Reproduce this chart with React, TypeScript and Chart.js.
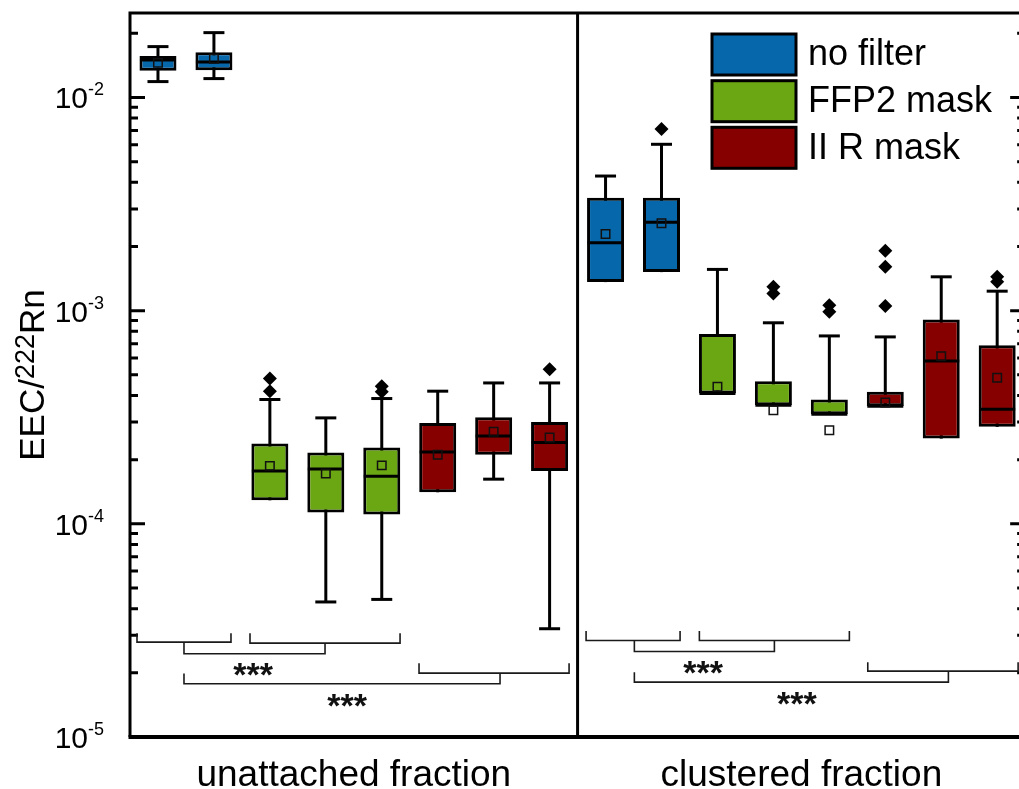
import React, { useEffect, useRef } from "react";
import { Chart, registerables } from "chart.js";

Chart.register(...registerables);

// ---------------- data ----------------
const groupLabels = ["unattached fraction", "clustered fraction"];
const groupCenters = [4.5, 12.5];
const dividerPosition = 8.5;

const seriesLabels = ["no filter", "FFP2 mask", "II R mask"];
const seriesColors = ["#0767AB", "#6BA713", "#870000"];

const boxPositions = [1, 2, 3, 4, 5, 6, 7, 8, 9, 10, 11, 12, 13, 14, 15, 16];
const boxSeries = [0, 0, 1, 1, 1, 2, 2, 2, 0, 0, 1, 1, 1, 2, 2, 2];
const whiskerLow = [0.01187, 0.01226, 1.289e-4, 4.3e-5, 4.42e-5, 1.406e-4, 1.62e-4, 3.22e-5, 1.361e-3, 1.516e-3, 4.09e-4, 3.6e-4, 3.27e-4, 3.56e-4, 2.51e-4, 2.85e-4];
const q1 = [0.01336, 0.01342, 1.289e-4, 1.129e-4, 1.105e-4, 1.406e-4, 2.11e-4, 1.77e-4, 1.361e-3, 1.516e-3, 4.09e-4, 3.6e-4, 3.27e-4, 3.56e-4, 2.51e-4, 2.85e-4];
const median = [0.015, 0.01468, 1.77e-4, 1.81e-4, 1.67e-4, 2.17e-4, 2.58e-4, 2.41e-4, 2.08e-3, 2.595e-3, 4.09e-4, 3.6e-4, 3.27e-4, 3.56e-4, 5.81e-4, 3.45e-4];
const q3 = [0.01566, 0.0163, 2.38e-4, 2.16e-4, 2.28e-4, 2.97e-4, 3.16e-4, 3.0e-4, 3.385e-3, 3.385e-3, 7.76e-4, 4.67e-4, 3.83e-4, 4.16e-4, 9.09e-4, 6.89e-4];
const whiskerHigh = [0.01732, 0.02014, 3.83e-4, 3.14e-4, 3.87e-4, 4.19e-4, 4.58e-4, 4.58e-4, 4.28e-3, 6.03e-3, 1.561e-3, 8.77e-4, 7.61e-4, 7.53e-4, 1.441e-3, 1.234e-3];
const mean = [0.01453, 0.01521, 1.87e-4, 1.72e-4, 1.88e-4, 2.11e-4, 2.7e-4, 2.54e-4, 2.29e-3, 2.567e-3, 4.39e-4, 3.41e-4, 2.75e-4, 3.71e-4, 6.11e-4, 4.84e-4];

const outlierPositions = [3, 3, 5, 5, 8, 10, 12, 12, 13, 13, 14, 14, 14, 16, 16];
const outlierValues = [4.81e-4, 4.19e-4, 4.42e-4, 4.16e-4, 5.31e-4, 7.11e-3, 1.293e-3, 1.204e-3, 1.061e-3, 9.87e-4, 1.909e-3, 1.606e-3, 1.05e-3, 1.441e-3, 1.365e-3];

const xMin = 0.5;
const xMax = 16.39; // the picture is cut just before the right frame
const xFrameRight = 16.5;
const yMin = 1e-5;
const yMax = 0.0249;
const yMajorTicks = [1e-5, 1e-4, 1e-3, 1e-2];
const yTickBase = "10";
const yTickExponents = ["-5", "-4", "-3", "-2"];
const yMinorMultipliers = [2, 3, 4, 5, 6, 7, 8, 9];

// significance brackets
const bracketLeft = [0.625, 2.645, 1.465, 5.666, 1.465, 8.652, 10.677, 9.515, 13.687, 9.515];
const bracketRight = [2.305, 5.327, 3.986, 8.348, 7.114, 10.332, 13.358, 12.018, 16.374, 15.128];
const bracketLevel = [2.786e-5, 2.757e-5, 2.459e-5, 1.993e-5, 1.778e-5, 2.838e-5, 2.838e-5, 2.52e-5, 2.037e-5, 1.808e-5];
const bracketLeftTop = [3.07e-5, 3.07e-5, 2.786e-5, 2.22e-5, 1.987e-5, 3.14e-5, 3.14e-5, 2.838e-5, 2.245e-5, 2.015e-5];
const bracketRightTop = [3.07e-5, 3.07e-5, 2.757e-5, 2.22e-5, 1.993e-5, 3.14e-5, 3.14e-5, 2.838e-5, 2.245e-5, 2.037e-5];
const starPositions = [2.699, 4.379, 10.743, 12.418];
const starValues = [2.12e-5, 1.528e-5, 2.167e-5, 1.549e-5];
const starText = "***";

const yTitleMain = "EEC/";
const yTitleSup = "222";
const yTitleEnd = "Rn";

// ---------------- chart ----------------
const FONT = '"Liberation Sans", Arial, Helvetica, sans-serif';

const decorPlugin = {
  id: "decor",
  afterDraw(chart: any) {
    const { ctx, chartArea: a } = chart;
    const x = chart.scales.x;
    const y = chart.scales.y;
    const frameRight = x.getPixelForValue(xFrameRight);
    ctx.save();
    ctx.strokeStyle = "#000";
    ctx.fillStyle = "#000";
    ctx.lineCap = "butt";

    // ticks (inward) on left and right frame
    const drawTick = (v: number, len: number) => {
      const py = y.getPixelForValue(v);
      ctx.lineWidth = 3;
      ctx.beginPath();
      ctx.moveTo(a.left, py);
      ctx.lineTo(a.left + len, py);
      ctx.moveTo(frameRight, py);
      ctx.lineTo(frameRight - len, py);
      ctx.stroke();
    };
    yMajorTicks.forEach((t) => {
      drawTick(t, 15);
      yMinorMultipliers.forEach((m) => {
        const v = t * m;
        if (v < yMax) drawTick(v, 8);
      });
    });

    // spines
    ctx.lineWidth = 3;
    ctx.beginPath();
    ctx.moveTo(a.left, a.bottom);
    ctx.lineTo(a.left, a.top);
    ctx.lineTo(frameRight, a.top);
    ctx.lineTo(frameRight, a.bottom);
    ctx.stroke();
    ctx.lineWidth = 4;
    ctx.beginPath();
    ctx.moveTo(a.left - 1.5, a.bottom);
    ctx.lineTo(frameRight + 2, a.bottom);
    ctx.stroke();
    // divider
    const dx = x.getPixelForValue(dividerPosition);
    ctx.lineWidth = 3;
    ctx.beginPath();
    ctx.moveTo(dx, a.top);
    ctx.lineTo(dx, a.bottom);
    ctx.stroke();

    // y tick labels
    ctx.textBaseline = "alphabetic";
    ctx.textAlign = "right";
    yMajorTicks.forEach((t, i) => {
      const py = y.getPixelForValue(t);
      ctx.font = `18px ${FONT}`;
      const sw = ctx.measureText(yTickExponents[i]).width;
      ctx.fillText(yTickExponents[i], a.left - 26, py - 2);
      ctx.font = `30px ${FONT}`;
      ctx.fillText(yTickBase, a.left - 26 - sw, py + 11);
    });

    // y title
    ctx.save();
    ctx.translate(44, 375);
    ctx.rotate(-Math.PI / 2);
    ctx.textAlign = "left";
    ctx.font = `35px ${FONT}`;
    const w1 = ctx.measureText(yTitleMain).width;
    const w3 = ctx.measureText(yTitleEnd).width;
    ctx.font = `27px ${FONT}`;
    const w2 = ctx.measureText(yTitleSup).width;
    const total = w1 + w2 + w3;
    let sx = -total / 2;
    ctx.font = `35px ${FONT}`;
    ctx.fillText(yTitleMain, sx, 0);
    sx += w1;
    ctx.font = `27px ${FONT}`;
    ctx.fillText(yTitleSup, sx, -10);
    sx += w2;
    ctx.font = `35px ${FONT}`;
    ctx.fillText(yTitleEnd, sx, 0);
    ctx.restore();

    // x group labels
    ctx.textAlign = "center";
    ctx.font = `37px ${FONT}`;
    groupLabels.forEach((l, i) => {
      ctx.fillText(l, x.getPixelForValue(groupCenters[i]), 786);
    });

    // brackets
    ctx.strokeStyle = "#1a1a1a";
    ctx.lineWidth = 1.6;
    bracketLeft.forEach((bl, i) => {
      const x1 = x.getPixelForValue(bl);
      const x2 = x.getPixelForValue(bracketRight[i]);
      const yl = y.getPixelForValue(bracketLevel[i]);
      const y1 = y.getPixelForValue(bracketLeftTop[i]);
      const y2 = y.getPixelForValue(bracketRightTop[i]);
      ctx.beginPath();
      ctx.moveTo(x1, y1);
      ctx.lineTo(x1, yl);
      ctx.lineTo(x2, yl);
      ctx.lineTo(x2, y2);
      ctx.stroke();
    });
    ctx.font = `bold 34px ${FONT}`;
    ctx.fillStyle = "#111";
    starPositions.forEach((p, i) => {
      ctx.fillText(starText, x.getPixelForValue(p), y.getPixelForValue(starValues[i]) + 19);
    });

    // legend
    const lx = 712;
    const lw = 84;
    const lh = 41;
    const tops = [34, 80.7, 127.3];
    ctx.textAlign = "left";
    ctx.textBaseline = "middle";
    ctx.font = `36px ${FONT}`;
    seriesLabels.forEach((lab, i) => {
      ctx.fillStyle = seriesColors[i];
      ctx.fillRect(lx, tops[i], lw, lh);
      ctx.strokeStyle = "#000";
      ctx.lineWidth = 3;
      ctx.strokeRect(lx, tops[i], lw, lh);
      ctx.fillStyle = "#000";
      ctx.fillText(lab, lx + lw + 12, tops[i] + lh / 2 + 1);
    });
    ctx.restore();
  },
};

export default function App() {
  const ref = useRef<HTMLCanvasElement | null>(null);

  useEffect(() => {
    if (!ref.current) return;

    const whiskerData = boxPositions.map((p, i) => ({ x: p, y: [whiskerLow[i], whiskerHigh[i]] }));
    const boxSets = seriesLabels.map((lab, s) => ({
      type: "bar" as const,
      label: lab,
      data: boxPositions
        .map((p, i) => ({ x: p, y: [q1[i], q3[i]], s: boxSeries[i] }))
        .filter((d) => d.s === s)
        .map((d) => ({ x: d.x, y: d.y })),
      backgroundColor: seriesColors[s],
      borderColor: "#000",
      borderWidth: 3,
      borderSkipped: false,
      grouped: false,
      maxBarThickness: 37,
      order: 4,
    }));
    const capData: { x: number; y: number }[] = [];
    boxPositions.forEach((p, i) => {
      if (whiskerHigh[i] > q3[i]) capData.push({ x: p, y: whiskerHigh[i] });
      if (whiskerLow[i] < q1[i]) capData.push({ x: p, y: whiskerLow[i] });
    });

    const chart = new Chart(ref.current, {
      type: "bar",
      data: {
        datasets: [
          {
            type: "bar",
            label: "whiskers",
            data: whiskerData,
            backgroundColor: "#000",
            borderWidth: 0,
            grouped: false,
            maxBarThickness: 3,
            order: 6,
          },
          {
            type: "scatter",
            label: "caps",
            data: capData,
            pointStyle: "line",
            pointRadius: 10.5,
            pointBorderWidth: 3,
            pointBorderColor: "#000",
            order: 5,
          },
          ...boxSets,
          {
            type: "scatter",
            label: "median",
            data: boxPositions.map((p, i) => ({ x: p, y: median[i] })),
            pointStyle: "line",
            pointRadius: 18,
            pointBorderWidth: 3,
            pointBorderColor: "#000",
            order: 3,
          },
          {
            type: "scatter",
            label: "mean",
            data: boxPositions.map((p, i) => ({ x: p, y: mean[i] })),
            pointStyle: "rect",
            pointRadius: 6,
            pointBorderWidth: 1.5,
            pointBorderColor: "#111",
            pointBackgroundColor: "rgba(0,0,0,0)",
            order: 2,
          },
          {
            type: "scatter",
            label: "outliers",
            data: outlierPositions.map((p, i) => ({ x: p, y: outlierValues[i] })),
            pointStyle: "rectRot",
            pointRadius: 7,
            pointBorderWidth: 0,
            pointBackgroundColor: "#000",
            pointBorderColor: "#000",
            order: 1,
          },
        ] as any,
      },
      options: {
        responsive: false,
        animation: false,
        events: [],
        layout: { autoPadding: false, padding: { left: 130, top: 13, right: 0, bottom: 52 } },
        scales: {
          x: { type: "linear", min: xMin, max: xMax, offset: false, display: false },
          y: { type: "logarithmic", min: yMin, max: yMax, display: false },
        },
        plugins: {
          legend: { display: false },
          tooltip: { enabled: false },
        },
      } as any,
      plugins: [decorPlugin],
    });
    return () => chart.destroy();
  }, []);

  return (
    <div
      style={{
        position: "fixed",
        left: 0,
        top: 0,
        width: 1019,
        height: 789,
        overflow: "hidden",
        background: "#fff",
      }}
    >
      <canvas ref={ref} width={1019} height={789} style={{ display: "block", width: 1019, height: 789 }} />
    </div>
  );
}
